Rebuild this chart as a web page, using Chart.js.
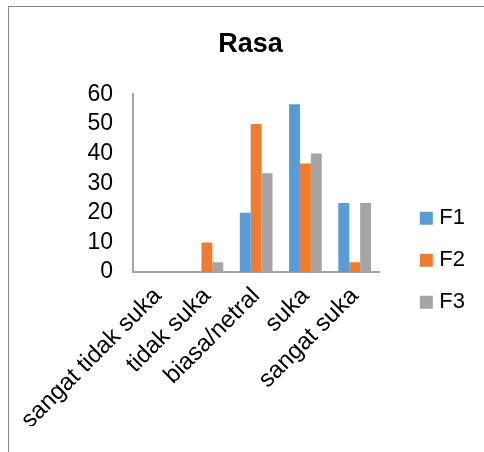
<!DOCTYPE html>
<html>
<head>
<meta charset="utf-8">
<script src="https://cdn.jsdelivr.net/npm/chart.js@4"></script>
<style>
  html, body { margin: 0; padding: 0; background: #fff; }
  #wrap { position: relative; width: 484px; height: 452px; overflow: hidden; }
  #frame { position: absolute; left: 8px; top: 6px; width: 600px; height: 600px; border: 1px solid #8a8a8a; box-sizing: border-box; }
  canvas { position: absolute; left: 0; top: 0; }
</style>
</head>
<body>
<div id="wrap">
  <div id="frame"></div>
  <canvas id="chart" width="484" height="452"></canvas>
</div>
<script>
// Rasa (taste) ratings per formula, percent of panelists
const categories = ['sangat tidak suka', 'tidak suka', 'biasa/netral', 'suka', 'sangat suka'];
const seriesNames = ['F1', 'F2', 'F3'];
const f1 = [0, 0, 20, 56.67, 23.33];
const f2 = [0, 10, 50, 36.67, 3.33];
const f3 = [0, 3.33, 33.33, 40, 23.33];
const yTicks = [0, 10, 20, 30, 40, 50, 60];

const seriesColors = ['#5b9bd5', '#ed7d31', '#a5a5a5'];
const FONT = "'Liberation Sans', Arial, sans-serif";

// Put the legend in the space below the title and nudge it right of the plot
const legendUnderTitle = {
  id: 'legendUnderTitle',
  afterLayout(chart) {
    const lg = chart.legend;
    lg.top = chart.titleBlock.bottom;
    lg.left += 25;
    lg.right += 25;
  }
};

Chart.defaults.font.family = FONT;
Chart.defaults.color = '#000';

new Chart(document.getElementById('chart'), {
  type: 'bar',
  data: {
    labels: categories,
    datasets: [f1, f2, f3].map((values, i) => ({
      label: seriesNames[i],
      data: values,
      backgroundColor: seriesColors[i],
      borderWidth: 0,
      categoryPercentage: 0.664,
      barPercentage: 1
    }))
  },
  options: {
    responsive: false,
    animation: false,
    devicePixelRatio: 1,
    layout: { padding: { left: 51, right: 34, top: 0, bottom: 26 } },
    plugins: {
      title: {
        display: true,
        text: 'Rasa',
        color: '#000',
        font: { family: FONT, size: 27, weight: 'bold' },
        padding: { top: 28, bottom: 34 }
      },
      legend: {
        position: 'right',
        labels: {
          usePointStyle: true,
          pointStyle: 'rect',
          boxWidth: 4,
          boxHeight: 13,
          padding: 20,
          color: '#000',
          font: { family: FONT, size: 22 }
        }
      },
      tooltip: { enabled: false }
    },
    scales: {
      x: {
        grid: { display: false, drawTicks: false },
        border: { color: '#a6a6a6', width: 2 },
        ticks: { font: { family: FONT, size: 24 }, minRotation: 45, maxRotation: 45, autoSkip: false, padding: 10, color: '#000' },
        afterFit(scale) { scale.height = 154; }
      },
      y: {
        min: 0,
        max: 60,
        grid: { display: false, drawTicks: false },
        border: { color: '#a6a6a6', width: 2 },
        ticks: { font: { family: FONT, size: 23 }, autoSkip: false, padding: 20, color: '#000' },
        afterBuildTicks(scale) { scale.ticks = yTicks.map(v => ({ value: v })); },
        afterFit(scale) { scale.width = 82; }
      }
    }
  },
  plugins: [legendUnderTitle]
});
</script>
</body>
</html>
